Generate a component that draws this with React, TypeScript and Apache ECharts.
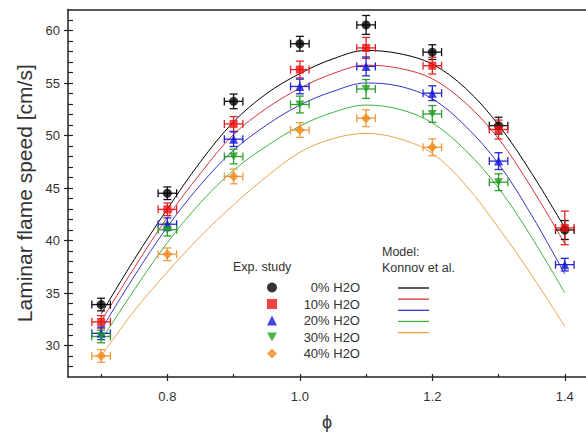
import React, { useEffect, useRef } from "react";
import * as echarts from "echarts";

// ---- Data ----
const PHI_EXP = [0.7, 0.8, 0.9, 1.0, 1.1, 1.2, 1.3, 1.4];
const X_ERR = 0.014;

const EXP_0 = [33.9, 44.5, 53.25, 58.74, 60.53, 57.94, 50.94, 41.0];
const EXP_10 = [32.25, 42.97, 51.1, 56.28, 58.34, 56.65, 50.57, 41.2];
const EXP_20 = [31.16, 41.55, 49.65, 54.67, 56.58, 54.03, 47.56, 37.7];
const EXP_30 = [30.86, 41.03, 48.0, 52.95, 54.43, 52.05, 45.55];
const EXP_40 = [29.01, 38.69, 46.1, 50.52, 51.65, 48.88];

const ERR_0 = [0.6, 0.6, 0.7, 0.7, 0.9, 0.7, 0.8, 0.9];
const ERR_10 = [0.6, 0.6, 0.7, 0.8, 1.0, 0.8, 0.9, 1.6];
const ERR_20 = [0.6, 0.6, 0.7, 0.7, 0.9, 0.7, 0.8, 0.6];
const ERR_30 = [0.6, 0.6, 0.7, 0.8, 0.9, 0.8, 0.8];
const ERR_40 = [0.6, 0.6, 0.7, 0.7, 0.8, 0.8];

const PHI_MODEL = [0.7, 0.75, 0.8, 0.85, 0.9, 0.95, 1.0, 1.05, 1.1, 1.15, 1.2, 1.25, 1.3, 1.35, 1.4];
const MODEL_0 = [33.0, 38.2, 43.0, 47.5, 51.3, 54.0, 55.9, 57.3, 58.1, 57.8, 56.8, 54.5, 51.0, 46.4, 41.2];
const MODEL_10 = [32.3, 37.4, 42.2, 46.4, 50.1, 52.6, 54.5, 55.9, 56.7, 56.4, 55.4, 53.1, 49.7, 45.0, 39.7];
const MODEL_20 = [31.5, 36.6, 41.3, 45.3, 48.6, 51.0, 52.9, 54.2, 55.0, 54.7, 53.5, 50.9, 47.3, 42.4, 36.8];
const MODEL_30 = [30.5, 35.3, 39.8, 43.6, 46.7, 49.0, 50.9, 52.2, 52.9, 52.5, 51.2, 48.6, 45.0, 40.3, 35.0];
const MODEL_40 = [29.0, 33.3, 37.0, 40.4, 43.4, 46.1, 48.4, 49.7, 50.2, 49.7, 48.3, 45.3, 41.2, 36.7, 31.8];

const NAMES = ["0% H2O", "10% H2O", "20% H2O", "30% H2O", "40% H2O"];
const X_MAJOR = [0.8, 1.0, 1.2, 1.4];
const X_MINOR = [0.7, 0.8, 0.9, 1.0, 1.1, 1.2, 1.3, 1.4];
const Y_MAJOR = [30, 35, 40, 45, 50, 55, 60];
const Y_MINOR = [28, 29, 30, 31, 32, 33, 34, 35, 36, 37, 38, 39, 40, 41, 42, 43, 44, 45, 46, 47, 48, 49, 50, 51, 52, 53, 54, 55, 56, 57, 58, 59, 60, 61];

const EXP = [EXP_0, EXP_10, EXP_20, EXP_30, EXP_40];
const ERR = [ERR_0, ERR_10, ERR_20, ERR_30, ERR_40];
const MODEL = [MODEL_0, MODEL_10, MODEL_20, MODEL_30, MODEL_40];

const MARKER_COLORS = ["#000000", "#ee1111", "#1515d8", "#1f9f1f", "#f08a1c"];
const BAR_COLORS = ["#111111", "#e02424", "#2525d0", "#2ea02e", "#f09a40"];
const LINE_COLORS = ["#000000", "#d83434", "#3434c8", "#3cb43c", "#eda24c"];
const SYMBOLS = ["circle", "rect", "triangle", "path://M0,0 L10,0 L5,9 Z", "diamond"];
const SYMBOL_SIZES = [9, 8, 9, [9, 8], 10];

const FONT = 'Arial, "Liberation Sans", sans-serif';
const LINE_ICON = "path://M0,0 L31,0 L31,1.3 L0,1.3 Z";

export default function App() {
  const ref = useRef<HTMLDivElement>(null);
  useEffect(() => {
    if (!ref.current) return;
    const chart = echarts.init(ref.current, null, { renderer: "svg" });

    const series: any[] = [];
    MODEL.forEach((vals, i) => {
      series.push({
        name: "Model " + NAMES[i],
        type: "line",
        data: PHI_MODEL.map((p, j) => [p, vals[j]]),
        smooth: 0.35,
        symbol: "none",
        lineStyle: { color: LINE_COLORS[i], width: 1 },
        itemStyle: { color: LINE_COLORS[i] },
        z: 2,
      });
    });
    EXP.forEach((vals, i) => {
      const color = BAR_COLORS[i];
      series.push({
        name: "Err " + NAMES[i],
        type: "custom",
        data: vals.map((v, j) => [PHI_EXP[j], v, ERR[i][j]]),
        z: 3,
        renderItem: (_params: any, api: any) => {
          const x = api.value(0);
          const y = api.value(1);
          const e = api.value(2);
          const top = api.coord([x, y + e]);
          const bot = api.coord([x, y - e]);
          const l = api.coord([x - X_ERR, y]);
          const r = api.coord([x + X_ERR, y]);
          const cap = 4;
          const st = { stroke: color, lineWidth: 1.3 };
          return {
            type: "group",
            children: [
              { type: "line", shape: { x1: top[0], y1: top[1], x2: bot[0], y2: bot[1] }, style: st },
              { type: "line", shape: { x1: top[0] - cap, y1: top[1], x2: top[0] + cap, y2: top[1] }, style: st },
              { type: "line", shape: { x1: bot[0] - cap, y1: bot[1], x2: bot[0] + cap, y2: bot[1] }, style: st },
              { type: "line", shape: { x1: l[0], y1: l[1], x2: r[0], y2: r[1] }, style: st },
              { type: "line", shape: { x1: l[0], y1: l[1] - cap, x2: l[0], y2: l[1] + cap }, style: st },
              { type: "line", shape: { x1: r[0], y1: r[1] - cap, x2: r[0], y2: r[1] + cap }, style: st },
            ],
          };
        },
      });
    });
    EXP.forEach((vals, i) => {
      series.push({
        name: NAMES[i],
        type: "scatter",
        data: vals.map((v, j) => [PHI_EXP[j], v]),
        symbol: SYMBOLS[i],
        symbolSize: SYMBOL_SIZES[i],
        itemStyle: { color: MARKER_COLORS[i] },
        z: 4,
      });
    });

    const axisColor = "#222";
    chart.setOption({
      animation: false,
      grid: { left: 68, right: 0, top: 9.5, bottom: 50, containLabel: false },
      legend: [
        {
          data: NAMES.map((n, i) => ({ name: n, icon: SYMBOLS[i] })),
          orient: "vertical",
          left: 262,
          top: 276,
          itemWidth: 10,
          itemHeight: 10,
          itemGap: 3.5,
          selectedMode: false,
          formatter: (n: string) => `{a|${n}}`,
          textStyle: {
            fontFamily: FONT,
            fontSize: 13,
            color: "#333",
            rich: { a: { width: 78, align: "right", fontSize: 13, lineHeight: 14, color: "#333", fontFamily: FONT } },
          },
        },
        {
          data: NAMES.map((n) => ({ name: "Model " + n, icon: LINE_ICON })),
          orient: "vertical",
          left: 393,
          top: 276,
          itemWidth: 31,
          itemHeight: 14,
          itemGap: 3.5,
          selectedMode: false,
          formatter: () => "",
        },
      ],
      graphic: [
        { type: "text", left: 233, top: 260, style: { text: "Exp. study", font: `12.5px ${FONT}`, fill: "#333" } },
        { type: "text", left: 382, top: 245, style: { text: "Model:", font: `12.5px ${FONT}`, fill: "#333" } },
        { type: "text", left: 382, top: 261, style: { text: "Konnov et al.", font: `12.5px ${FONT}`, fill: "#333" } },
      ],
      xAxis: [
        {
          type: "value",
          min: 0.65,
          max: 1.432,
          position: "bottom",
          name: "ϕ",
          nameLocation: "middle",
          nameGap: 36,
          nameTextStyle: { fontFamily: FONT, fontSize: 18, color: "#333" },
          axisLine: { lineStyle: { color: axisColor, width: 1.5 } },
          axisTick: { show: true, customValues: X_MAJOR, length: 4, inside: false, lineStyle: { color: axisColor, width: 1.2 } },
          axisLabel: {
            customValues: X_MAJOR,
            formatter: (v: number) => v.toFixed(1),
            margin: 13,
            fontFamily: FONT,
            fontSize: 13,
            color: "#333",
          },
          splitLine: { show: false },
        },
        {
          type: "value",
          min: 0.65,
          max: 1.432,
          position: "bottom",
          gridIndex: 0,
          axisLine: { show: false },
          axisTick: { show: true, customValues: X_MINOR, length: 3, inside: true, lineStyle: { color: axisColor, width: 1.2 } },
          axisLabel: { show: false },
          splitLine: { show: false },
        },
        {
          type: "value",
          min: 0.65,
          max: 1.432,
          position: "top",
          gridIndex: 0,
          axisLine: { show: true, lineStyle: { color: axisColor, width: 1.5 } },
          axisTick: { show: false },
          axisLabel: { show: false },
          splitLine: { show: false },
        },
      ],
      yAxis: [
        {
          type: "value",
          min: 27,
          max: 62,
          position: "left",
          name: "Laminar flame speed [cm/s]",
          nameLocation: "middle",
          nameGap: 29,
          nameRotate: 90,
          nameTextStyle: { fontFamily: FONT, fontSize: 21, color: "#333" },
          axisLine: { show: true, lineStyle: { color: axisColor, width: 1.5 } },
          axisTick: { show: true, customValues: Y_MAJOR, length: 4, inside: false, lineStyle: { color: axisColor, width: 1.2 } },
          axisLabel: { customValues: Y_MAJOR, margin: 8, fontFamily: FONT, fontSize: 13, color: "#333" },
          splitLine: { show: false },
        },
        {
          type: "value",
          min: 27,
          max: 62,
          position: "left",
          axisLine: { show: false },
          axisTick: { show: true, customValues: Y_MINOR, length: 5, inside: true, lineStyle: { color: axisColor, width: 1.2 } },
          axisLabel: { show: false },
          splitLine: { show: false },
        },
      ],
      series,
    });
    return () => chart.dispose();
  }, []);
  return (
    <div
      ref={ref}
      style={{ position: "fixed", left: 0, top: 0, width: 586, height: 436, background: "#fff" }}
    />
  );
}
